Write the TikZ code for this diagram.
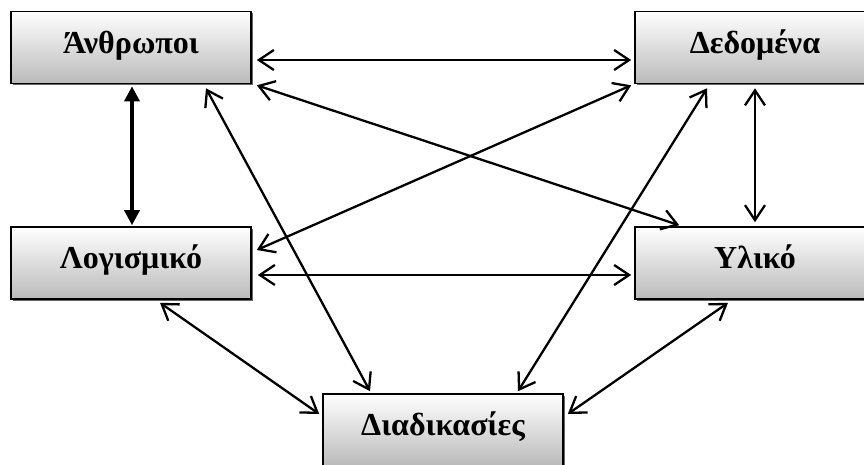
\documentclass[tikz,border=0pt]{standalone}
\usepackage{fontspec}
\setmainfont{Liberation Serif}
\usetikzlibrary{arrows.meta,calc,shadows}
\begin{document}
\begin{tikzpicture}[x=1pt,y=-1pt,
  box/.style={draw=black, line width=1.6pt, minimum width=240pt, minimum height=72pt,
    inner sep=0pt, top color=white, bottom color=black!27,
    drop shadow={shadow xshift=1.5pt, shadow yshift=-1.5pt, fill=black!60, opacity=1},
    font=\bfseries\fontsize{32}{32}\selectfont, text height=22pt, text depth=11pt},
  arr/.style={{Straight Barb[length=15pt,width=20pt]}-{Straight Barb[length=15pt,width=20pt]}, line width=2.3pt},
  thickarr/.style={{Triangle[length=15pt,width=15pt]}-{Triangle[length=15pt,width=15pt]}, line width=3.2pt}]
\useasboundingbox (0,0) rectangle (864,464);
\clip (0,0) rectangle (864,464);
\fill[white] (0,0) rectangle (864,464);
\node[box] (A) at (131,47.5) {Άνθρωποι};
\node[box] (D) at (755,47.5) {Δεδομένα};
\node[box] (L) at (131,263) {Λογισμικό};
\node[box] (Y) at (755,263) {Υλικό};
\node[box] (P) at (443,430) {Διαδικασίες};
% connectors
\draw[arr] ($(A.east)+(5,12.5)$) -- ($(D.west)+(-3,12.5)$);
\draw[arr] ($(A.south east)+(5,1)$) -- ($(Y.north west)+(45,-1)$);
\draw[arr] ($(A.south)+(75,4)$) -- ($(P.north)+(-73,-2)$);
\draw[thickarr] ($(A.south)+(1,2)$) -- ($(L.north)+(1,-1)$);
\draw[arr] ($(D.south west)+(-3,1)$) -- ($(L.east)+(5,-13)$);
\draw[arr] ($(D.south)+(0,4)$) -- ($(Y.north)+(0,-4)$);
\draw[arr] ($(D.south)+(-48,4)$) -- ($(P.north)+(75,-2)$);
\draw[arr] ($(L.east)+(6,12)$) -- ($(Y.west)+(-3,12)$);
\draw[arr] ($(L.south)+(29,3)$) -- ($(P.west)+(-3,-16)$);
\draw[arr] ($(Y.south)+(-27,3)$) -- ($(P.east)+(4,-16)$);
\end{tikzpicture}
\end{document}
